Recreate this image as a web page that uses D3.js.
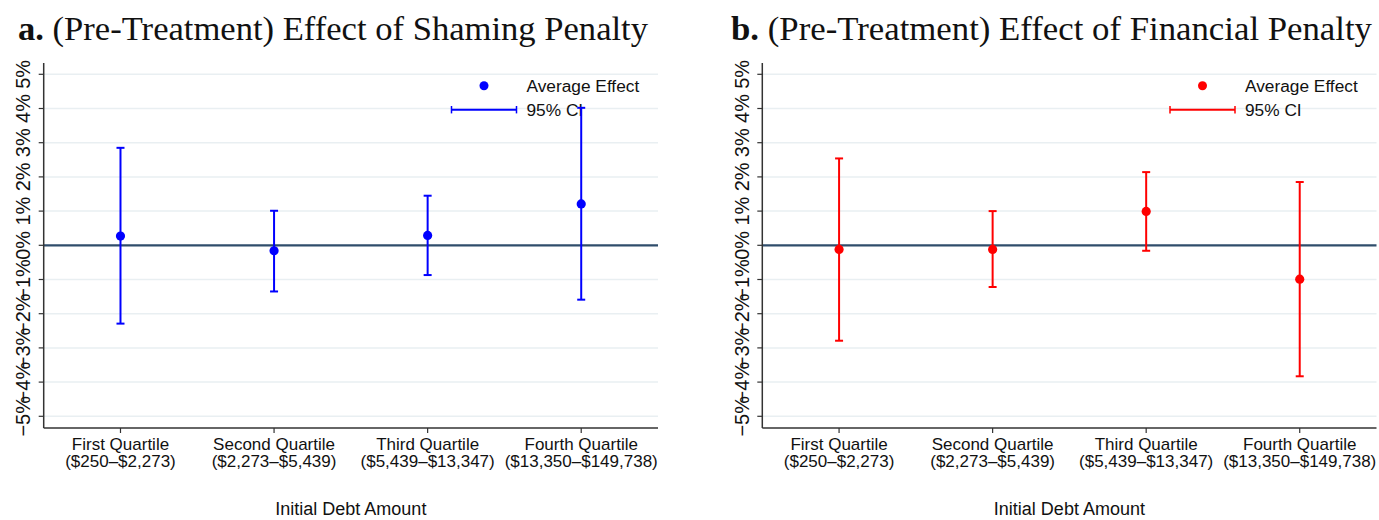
<!DOCTYPE html>
<html>
<head>
<meta charset="utf-8">
<script src="https://cdn.jsdelivr.net/npm/d3@7"></script>
<style>
  body { margin: 0; background: #fff; }
  text { font-family: "Liberation Sans", Arial, sans-serif; fill: #111; }
  .title { font-family: "Liberation Serif", "DejaVu Serif", serif; }
</style>
</head>
<body>
<div id="chart"></div>
<script>
// quartile categories and labels
const positions = [1, 2, 3, 4];
const quartiles = ["First Quartile", "Second Quartile", "Third Quartile", "Fourth Quartile"];
const ranges = ["($250\u2013$2,273)", "($2,273\u2013$5,439)", "($5,439\u2013$13,347)", "($13,350\u2013$149,738)"];

// panel a: shaming penalty (percent)
const shamingEst = [0.27, -0.16, 0.29, 1.21];
const shamingLo = [-2.29, -1.35, -0.87, -1.59];
const shamingHi = [2.85, 1.01, 1.45, 4.02];

// panel b: financial penalty (percent)
const financialEst = [-0.12, -0.12, 0.99, -0.99];
const financialLo = [-2.79, -1.22, -0.16, -3.83];
const financialHi = [2.54, 1.00, 2.14, 1.85];

const yTicks = [-5, -4, -3, -2, -1, 0, 1, 2, 3, 4, 5];

const W = 1379, H = 520;
const svg = d3.select("#chart").append("svg")
    .attr("width", W)
    .attr("height", H);

function fmtPct(v) {
    return (v < 0 ? "\u2212" + Math.abs(v) : v) + "%";
}

function drawPanel(p) {
    const x = d3.scaleLinear().domain([0.5, 4.5]).range([p.left, p.right]);
    const y = d3.scaleLinear().domain([-5, 5]).range([416.3, 74.3]);
    const top = 63, bottom = 428;

    const g = svg.append("g");

    // title
    const t = g.append("text")
        .attr("class", "title")
        .attr("x", p.titleX)
        .attr("y", 40)
        .attr("textLength", p.titleW)
        .attr("lengthAdjust", "spacingAndGlyphs")
        .style("font-size", "33px");
    t.append("tspan").style("font-weight", "bold").text(p.letter + " ");
    t.append("tspan").text(p.title);

    // grid lines
    g.selectAll(".grid").data(yTicks.filter(d => d !== 0)).join("line")
        .attr("x1", p.left).attr("x2", p.right)
        .attr("y1", d => y(d)).attr("y2", d => y(d))
        .attr("stroke", "#e9eff2")
        .attr("stroke-width", 1.5);

    // zero line
    g.append("line")
        .attr("x1", p.left).attr("x2", p.right)
        .attr("y1", y(0)).attr("y2", y(0))
        .attr("stroke", "#2f4d6b")
        .attr("stroke-width", 2.2);

    // axes
    g.append("line")
        .attr("x1", p.left).attr("x2", p.left)
        .attr("y1", top).attr("y2", bottom)
        .attr("stroke", "#333").attr("stroke-width", 1.5);
    g.append("line")
        .attr("x1", p.left).attr("x2", p.right)
        .attr("y1", bottom).attr("y2", bottom)
        .attr("stroke", "#333").attr("stroke-width", 1.5);

    // y ticks + rotated labels
    g.selectAll(".ytick").data(yTicks).join("line")
        .attr("x1", p.left - 5).attr("x2", p.left)
        .attr("y1", d => y(d)).attr("y2", d => y(d))
        .attr("stroke", "#333").attr("stroke-width", 1.2);
    g.selectAll(".ylab").data(yTicks).join("text")
        .attr("transform", d => `translate(${p.left - 13.5},${y(d)}) rotate(-90)`)
        .attr("text-anchor", "middle")
        .style("font-size", "20px")
        .text(d => fmtPct(d));

    // x ticks + labels
    g.selectAll(".xtick").data(positions).join("line")
        .attr("x1", d => x(d)).attr("x2", d => x(d))
        .attr("y1", bottom).attr("y2", bottom + 5)
        .attr("stroke", "#333").attr("stroke-width", 1.2);
    const xl = g.selectAll(".xlab").data(positions).join("text")
        .attr("text-anchor", "middle")
        .style("font-size", "17px");
    xl.append("tspan").attr("x", d => x(d)).attr("y", 450).text((d, i) => quartiles[i]);
    xl.append("tspan").attr("x", d => x(d)).attr("y", 467).text((d, i) => ranges[i]);

    g.append("text")
        .attr("x", (p.left + p.right) / 2)
        .attr("y", 515)
        .attr("text-anchor", "middle")
        .style("font-size", "18px")
        .text("Initial Debt Amount");

    // legend
    const lx = p.right - 174;
    g.append("circle")
        .attr("cx", lx).attr("cy", 85.7).attr("r", 4.5)
        .attr("fill", p.color);
    g.append("line")
        .attr("x1", lx - 32.5).attr("x2", lx + 32.5)
        .attr("y1", 109.7).attr("y2", 109.7)
        .attr("stroke", p.color).attr("stroke-width", 2);
    [lx - 32.5, lx + 32.5].forEach(cx => {
        g.append("line")
            .attr("x1", cx).attr("x2", cx)
            .attr("y1", 106).attr("y2", 113.4)
            .attr("stroke", p.color).attr("stroke-width", 1.5);
    });
    g.append("text").attr("x", lx + 42.5).attr("y", 92)
        .style("font-size", "17.3px").text("Average Effect");
    g.append("text").attr("x", lx + 42.5).attr("y", 116)
        .style("font-size", "17.3px").text("95% CI");

    // error bars
    const bars = g.selectAll(".bar").data(positions).join("g");
    bars.append("line")
        .attr("x1", d => x(d)).attr("x2", d => x(d))
        .attr("y1", (d, i) => y(p.lo[i])).attr("y2", (d, i) => y(p.hi[i]))
        .attr("stroke", p.color).attr("stroke-width", 2);
    bars.append("line")
        .attr("x1", d => x(d) - 4).attr("x2", d => x(d) + 4)
        .attr("y1", (d, i) => y(p.hi[i])).attr("y2", (d, i) => y(p.hi[i]))
        .attr("stroke", p.color).attr("stroke-width", 2);
    bars.append("line")
        .attr("x1", d => x(d) - 4).attr("x2", d => x(d) + 4)
        .attr("y1", (d, i) => y(p.lo[i])).attr("y2", (d, i) => y(p.lo[i]))
        .attr("stroke", p.color).attr("stroke-width", 2);
    bars.append("circle")
        .attr("cx", d => x(d))
        .attr("cy", (d, i) => y(p.est[i]))
        .attr("r", 4.6)
        .attr("fill", p.color);
}

drawPanel({
    left: 43.7, right: 658, color: "#0000ff",
    letter: "a.", title: "(Pre-Treatment) Effect of Shaming Penalty",
    titleX: 18, titleW: 630,
    est: shamingEst, lo: shamingLo, hi: shamingHi
});

drawPanel({
    left: 762.3, right: 1376.5, color: "#ff0000",
    letter: "b.", title: "(Pre-Treatment) Effect of Financial Penalty",
    titleX: 731, titleW: 641,
    est: financialEst, lo: financialLo, hi: financialHi
});
</script>
</body>
</html>
